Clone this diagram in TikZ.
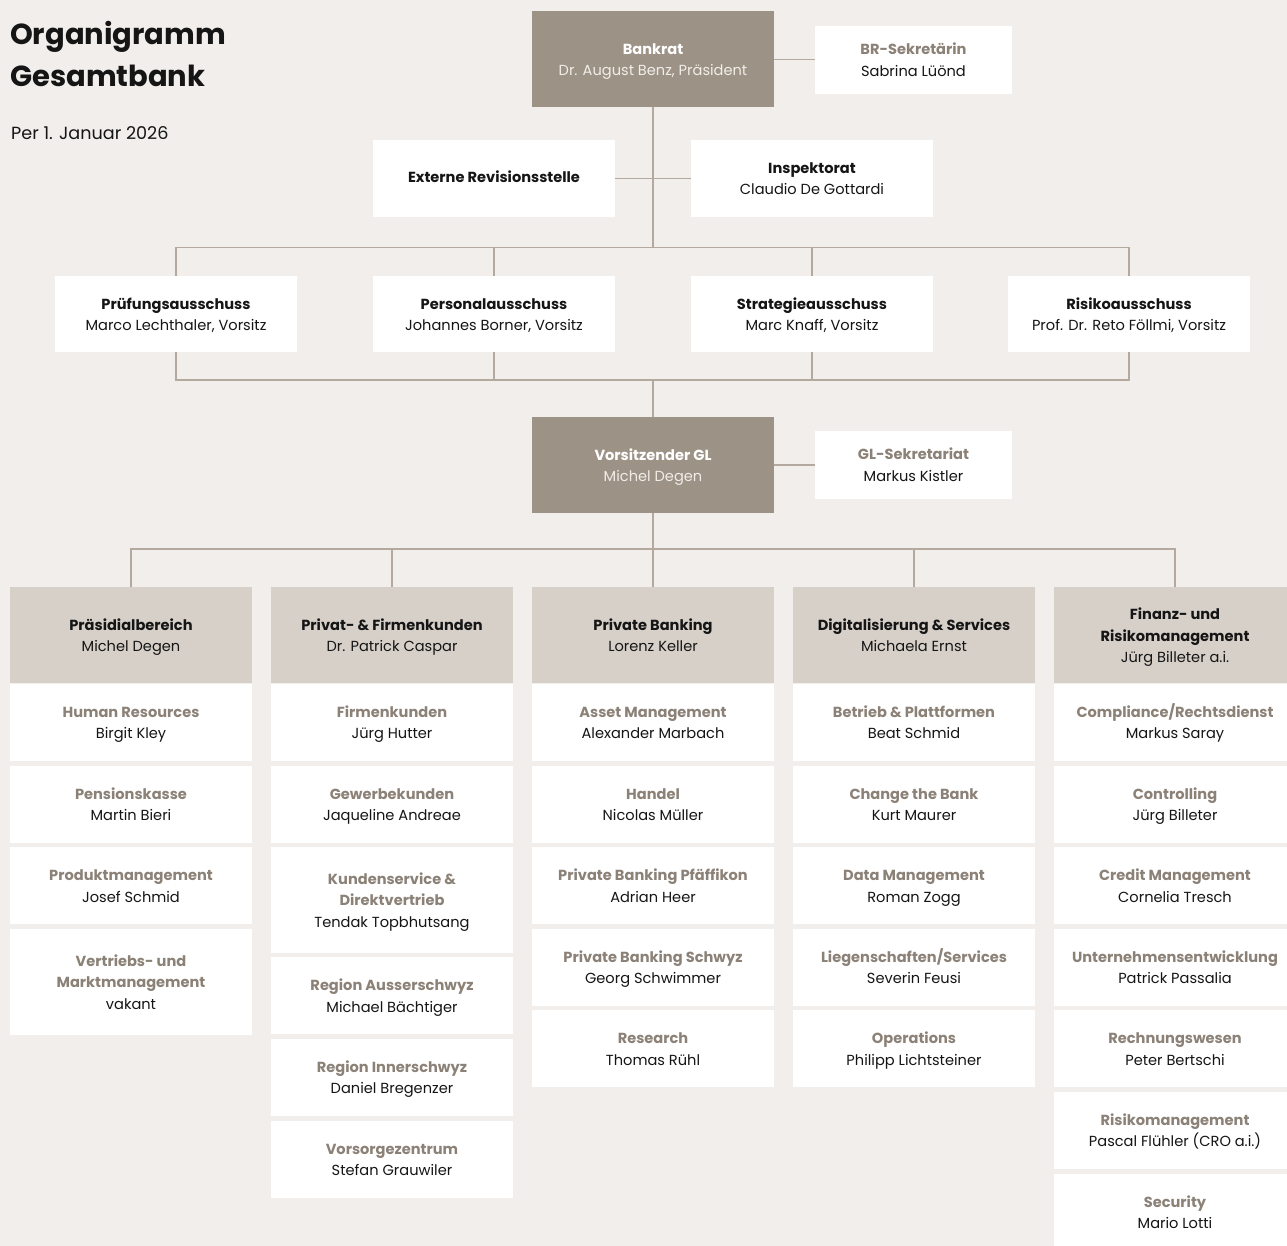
\documentclass[tikz,border=0pt]{standalone}
\usepackage{fontspec}
\setmainfont{Poppins}
\definecolor{bg}{HTML}{F1EEEB}
\definecolor{darkbox}{HTML}{9C9286}
\definecolor{hdrbox}{HTML}{D6D0C9}
\definecolor{tgray}{HTML}{8B8177}
\definecolor{tblack}{HTML}{151515}
\definecolor{tlight}{HTML}{F1EDE8}
\definecolor{conncol}{HTML}{B3A99F}
\newcommand{\bfs}{\fontsize{14.6}{21.5}\selectfont}
\newcommand{\ms}{\rule[-5pt]{0pt}{21.5pt}}
\tikzset{
  x=1pt, y=-1pt,
  box/.style={inner sep=0pt, outer sep=0pt, minimum width=242, minimum height=76.5,
    align=center, font=\bfs, text=tblack, fill=white},
  darkb/.style={box, fill=darkbox, minimum height=96},
  hdrb/.style={box, fill=hdrbox, minimum height=96},
  secb/.style={box, minimum width=197, minimum height=67.5},
  tallb/.style={box, minimum height=106},
  conn/.style={draw=conncol, line width=1.4pt},
}
\newcommand{\hd}[2]{{\bfseries\ms #1}\\\ms #2}
\newcommand{\gt}[2]{{\bfseries\color{tgray}\ms #1}\\\ms #2}
\newcommand{\dk}[2]{{\bfseries\color{white}\ms #1}\\{\color{tlight}\ms #2}}
\begin{document}
\begin{tikzpicture}
\useasboundingbox (0,0) rectangle (1287,1246);
\clip (0,0) rectangle (1287,1246);
\fill[bg] (0,0) rectangle (1287,1246);

% title
\node[anchor=base west, inner sep=0pt, font=\fontsize{29}{41}\selectfont\bfseries, text=tblack] (t1) at (10,45) {Organigramm};
\node[anchor=base west, inner sep=0pt, font=\fontsize{29}{41}\selectfont\bfseries, text=tblack] (t2) at (10,86.5) {Gesamtbank};
\node[anchor=base west, inner sep=0pt, font=\fontsize{17.6}{20}\selectfont, text=tblack] (dt) at (11,140) {Per 1. Januar 2026};

% top
\node[darkb] (bankrat) at (653,59.3) {\dk{Bankrat}{Dr. August Benz, Präsident}};
\node[secb] (brsek) at (913.5,59.8) {\gt{BR-Sekretärin}{Sabrina Lüönd}};
\node[box] (extrev) at (494,178.3) {{\bfseries\strut Externe Revisionsstelle}};
\node[box] (insp) at (812,178.3) {\hd{Inspektorat}{Claudio De Gottardi}};

\node[box] (k1) at (176,314.2) {\hd{Prüfungsausschuss}{Marco Lechthaler, Vorsitz}};
\node[box] (k2) at (494,314.2) {\hd{Personalausschuss}{Johannes Borner, Vorsitz}};
\node[box] (k3) at (812,314.2) {\hd{Strategieausschuss}{Marc Knaff, Vorsitz}};
\node[box] (k4) at (1129,314.2) {\hd{Risikoausschuss}{Prof. Dr. Reto Föllmi, Vorsitz}};

\node[darkb] (vgl) at (653,465.3) {\dk{Vorsitzender GL}{Michel Degen}};
\node[secb] (glsek) at (913.5,464.8) {\gt{GL-Sekretariat}{Markus Kistler}};

% column headers
\node[hdrb] (h1) at (131,635.3) {\hd{Präsidialbereich}{Michel Degen}};
\node[hdrb] (h2) at (392,635.3) {\hd{Privat- \& Firmenkunden}{Dr. Patrick Caspar}};
\node[hdrb] (h3) at (653,635.3) {\hd{Private Banking}{Lorenz Keller}};
\node[hdrb] (h4) at (914,635.3) {\hd{Digitalisierung \& Services}{Michaela Ernst}};
\node[hdrb] (h5) at (1175,635.3) {{\bfseries\ms Finanz- und}\\{\bfseries\ms Risikomanagement}\\\ms Jürg Billeter a.i.};

% column 1
\node[box] (a1) at (131,722.3) {\gt{Human Resources}{Birgit Kley}};
\node[box] (a2) at (131,804.3) {\gt{Pensionskasse}{Martin Bieri}};
\node[box] (a3) at (131,885.5) {\gt{Produktmanagement}{Josef Schmid}};
\node[tallb] (a4) at (131,982) {{\bfseries\color{tgray}\ms Vertriebs- und}\\{\bfseries\color{tgray}\ms Marktmanagement}\\\ms vakant};

% column 2
\node[box] (b1) at (392,722.3) {\gt{Firmenkunden}{Jürg Hutter}};
\node[box] (b2) at (392,804.3) {\gt{Gewerbekunden}{Jaqueline Andreae}};
\node[tallb] (b3) at (392,900) {{\bfseries\color{tgray}\ms Kundenservice \&}\\{\bfseries\color{tgray}\ms Direktvertrieb}\\\ms Tendak Topbhutsang};
\node[box] (b4) at (392,995.5) {\gt{Region Ausserschwyz}{Michael Bächtiger}};
\node[box] (b5) at (392,1077.3) {\gt{Region Innerschwyz}{Daniel Bregenzer}};
\node[box] (b6) at (392,1159.3) {\gt{Vorsorgezentrum}{Stefan Grauwiler}};

% column 3
\node[box] (c1) at (653,722.3) {\gt{Asset Management}{Alexander Marbach}};
\node[box] (c2) at (653,804.3) {\gt{Handel}{Nicolas Müller}};
\node[box] (c3) at (653,885.5) {\gt{Private Banking Pfäffikon}{Adrian Heer}};
\node[box] (c4) at (653,967.3) {\gt{Private Banking Schwyz}{Georg Schwimmer}};
\node[box] (c5) at (653,1048.7) {\gt{Research}{Thomas Rühl}};

% column 4
\node[box] (d1) at (914,722.3) {\gt{Betrieb \& Plattformen}{Beat Schmid}};
\node[box] (d2) at (914,804.3) {\gt{Change the Bank}{Kurt Maurer}};
\node[box] (d3) at (914,885.5) {\gt{Data Management}{Roman Zogg}};
\node[box] (d4) at (914,967.3) {\gt{Liegenschaften/Services}{Severin Feusi}};
\node[box] (d5) at (914,1048.7) {\gt{Operations}{Philipp Lichtsteiner}};

% column 5
\node[box] (e1) at (1175,722.3) {\gt{Compliance/Rechtsdienst}{Markus Saray}};
\node[box] (e2) at (1175,804.3) {\gt{Controlling}{Jürg Billeter}};
\node[box] (e3) at (1175,885.5) {\gt{Credit Management}{Cornelia Tresch}};
\node[box] (e4) at (1175,967.3) {\gt{Unternehmensentwicklung}{Patrick Passalia}};
\node[box] (e5) at (1175,1048.7) {\gt{Rechnungswesen}{Peter Bertschi}};
\node[box] (e6) at (1175,1130.3) {\gt{Risikomanagement}{Pascal Flühler (CRO a.i.)}};
\node[box] (e7) at (1175,1212.3) {\gt{Security}{Mario Lotti}};

% connectors
\coordinate (busA) at (0,247.5);
\coordinate (busB) at (0,380);
\coordinate (busC) at (0,549);
\draw[conn] (bankrat.east |- brsek.west) -- (brsek.west);
\draw[conn] (extrev.east) -- (insp.west);
\draw[conn] (bankrat.south) -- (bankrat.south |- busA);
\draw[conn] (k1.north) -- (k1.north |- busA) -- (k4.north |- busA) -- (k4.north);
\draw[conn] (k2.north) -- (k2.north |- busA);
\draw[conn] (k3.north) -- (k3.north |- busA);
\draw[conn] (k1.south) -- (k1.south |- busB) -- (k4.south |- busB) -- (k4.south);
\draw[conn] (k2.south) -- (k2.south |- busB);
\draw[conn] (k3.south) -- (k3.south |- busB);
\draw[conn] (vgl.north |- busB) -- (vgl.north);
\draw[conn] (vgl.east |- glsek.west) -- (glsek.west);
\draw[conn] (vgl.south) -- (vgl.south |- busC);
\draw[conn] (h1.north) -- (h1.north |- busC) -- (h5.north |- busC) -- (h5.north);
\draw[conn] (h2.north) -- (h2.north |- busC);
\draw[conn] (h3.north) -- (h3.north |- busC);
\draw[conn] (h4.north) -- (h4.north |- busC);
\end{tikzpicture}
\end{document}
